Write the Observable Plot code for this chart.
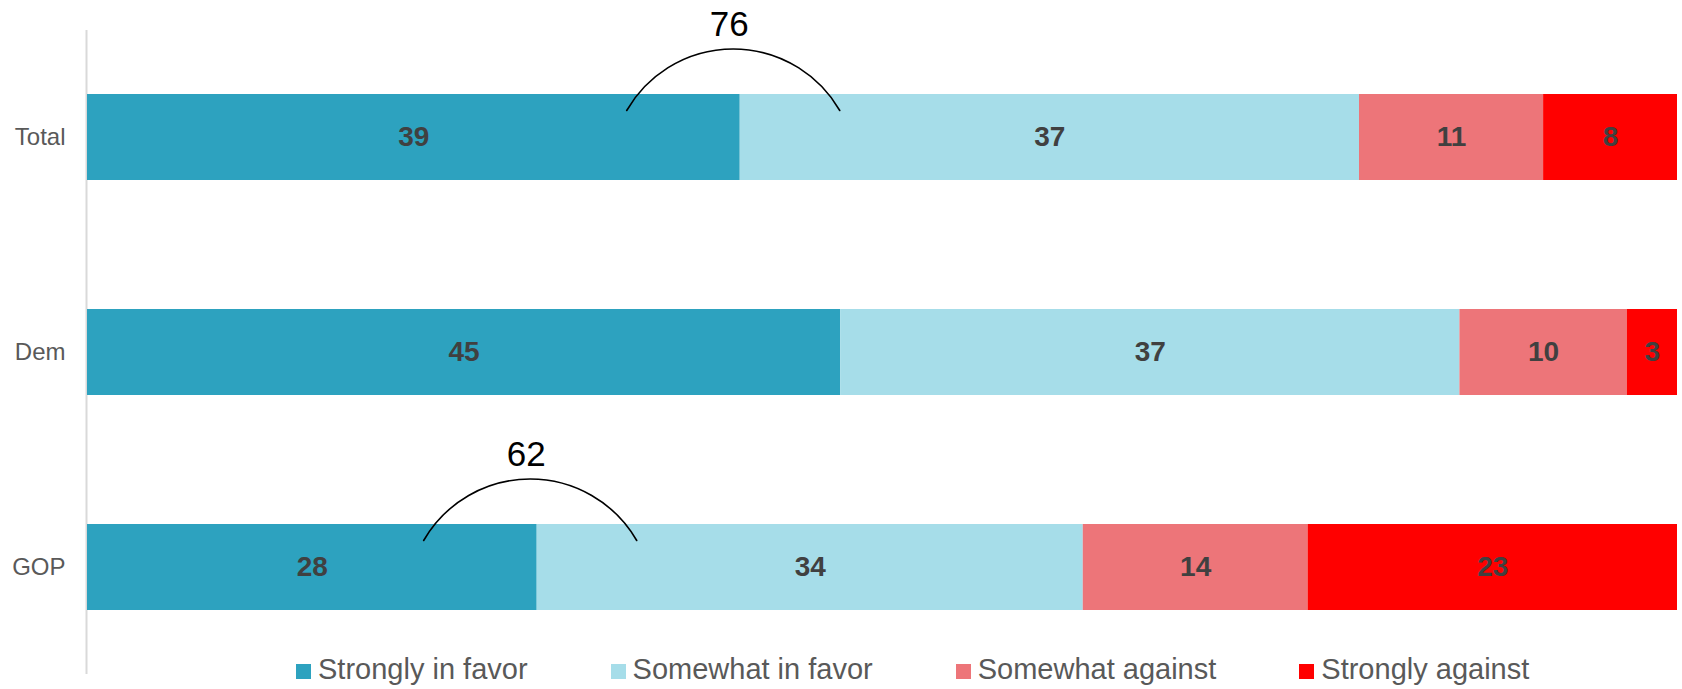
<!DOCTYPE html>
<html>
<head>
<meta charset="utf-8">
<script src="https://cdn.jsdelivr.net/npm/d3@7"></script>
<script src="https://cdn.jsdelivr.net/npm/@observablehq/plot@0.6"></script>
<style>
  html, body { margin: 0; padding: 0; background: #fff; }
  #wrap { position: relative; width: 1682px; height: 689px; font-family: "Liberation Sans", Arial, sans-serif; }
  #legend { position: absolute; left: 296px; top: 654.5px; white-space: nowrap; font-size: 29px; line-height: 29px; color: #595959; }
  #legend .item { display: inline-block; margin-right: 83px; }
  #legend .sw { display: inline-block; width: 15px; height: 15px; margin-right: 7px; }
</style>
</head>
<body>
<div id="wrap"><div id="chart"></div><div id="legend"></div></div>
<script>
const groups = ["Total", "Dem", "GOP"];
const responses = ["Strongly in favor", "Somewhat in favor", "Somewhat against", "Strongly against"];
const stronglyInFavor = [39, 45, 28];
const somewhatInFavor = [37, 37, 34];
const somewhatAgainst = [11, 10, 14];
const stronglyAgainst = [8, 3, 23];
const responseColors = ["#2da2bf", "#a6dde9", "#ed7579", "#ff0000"];
const netFavorGroups = ["Total", "GOP"];

const series = [stronglyInFavor, somewhatInFavor, somewhatAgainst, stronglyAgainst];
const rows = [];
groups.forEach((g, i) => {
  responses.forEach((r, j) => rows.push({group: g, response: r, value: series[j][i]}));
});

const ARC_HALF = 0.067;
const arcs = netFavorGroups.map(g => {
  const i = groups.indexOf(g);
  const total = series.reduce((s, a) => s + a[i], 0);
  const boundary = stronglyInFavor[i] / total;
  return {group: g, boundary, x1: boundary - ARC_HALF, x2: boundary + ARC_HALF,
          net: stronglyInFavor[i] + somewhatInFavor[i]};
});

const chart = Plot.plot({
  width: 1682,
  height: 689,
  marginLeft: 87,
  marginRight: 5,
  marginTop: 30,
  marginBottom: 15,
  style: {fontFamily: "'Liberation Sans', Arial, sans-serif", background: "#fff"},
  x: {domain: [0, 1], axis: null},
  y: {domain: groups, paddingInner: 0.6, paddingOuter: 0.295, label: null},
  color: {domain: responses, range: responseColors},
  marks: [
    Plot.ruleX([0], {stroke: "#d9d9d9", strokeWidth: 2, dx: -1}),
    Plot.barX(rows, Plot.stackX({x: "value", y: "group", z: "response", fill: "response", offset: "normalize"})),
    Plot.text(rows, Plot.stackX({x: "value", y: "group", z: "response", offset: "normalize", text: d => String(d.value),
      fill: "#404040", fontWeight: "bold", fontSize: 28})),
    Plot.axisY({tickSize: 0, tickPadding: 22, fontSize: 24, color: "#595959", label: null}),
    Plot.arrow(arcs, {x1: "x1", x2: "x2", y1: "group", y2: "group", bend: 60, headLength: 0,
      stroke: "#000", strokeWidth: 1.6, dy: -27, dx: -7}),
    Plot.text(arcs, {x: "boundary", y: "group", text: d => String(d.net), fontSize: 35, fill: "#000",
      lineAnchor: "bottom", dy: -102, dx: -11})
  ]
});
document.getElementById("chart").appendChild(chart);

const legend = document.getElementById("legend");
responses.forEach((r, j) => {
  const item = document.createElement("span");
  item.className = "item";
  const sw = document.createElement("span");
  sw.className = "sw";
  sw.style.background = responseColors[j];
  item.appendChild(sw);
  item.appendChild(document.createTextNode(r));
  legend.appendChild(item);
});
</script>
</body>
</html>
